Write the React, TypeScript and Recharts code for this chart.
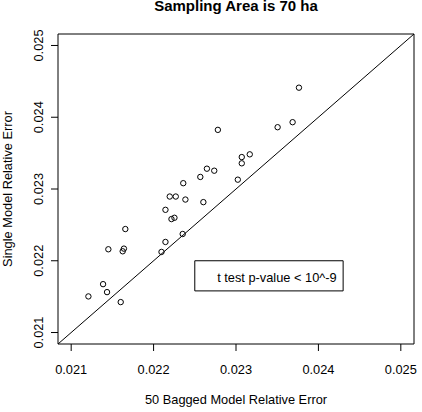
import React from 'react';
import {
  ScatterChart,
  Scatter,
  XAxis,
  YAxis,
  ReferenceLine,
  ReferenceArea,
  Customized,
} from 'recharts';

// Relative error of the 50-model bagged ensemble (x) vs. the single model (y)
const baggedError = [
  0.021209, 0.021387, 0.021435, 0.021451, 0.021601, 0.021625, 0.02164, 0.021657,
  0.022096, 0.022144, 0.022144, 0.022196, 0.022217, 0.022253, 0.022269, 0.022353,
  0.02236, 0.022386, 0.022567, 0.022604, 0.022647, 0.022736, 0.02278, 0.023022,
  0.02307, 0.02307, 0.023167, 0.023505, 0.023687, 0.023764,
];
const singleError = [
  0.021503, 0.021674, 0.021563, 0.02216, 0.021424, 0.022132, 0.022169, 0.022442,
  0.022123, 0.022262, 0.02271, 0.022895, 0.022581, 0.022599, 0.022895, 0.022373,
  0.023081, 0.022853, 0.023168, 0.022817, 0.023283, 0.023255, 0.023824, 0.02313,
  0.023445, 0.023358, 0.023483, 0.023861, 0.023931, 0.024412,
];

const axisTicks = [0.021, 0.022, 0.023, 0.024, 0.025];
const axisDomain: [number, number] = [0.02084, 0.02516];

const legendBox = { x1: 0.0225, x2: 0.0243, y1: 0.02158, y2: 0.022 };
const legendText = 't test p-value < 10^-9';
const titleText = 'Sampling Area is 70 ha';
const xLabelText = '50 Bagged Model Relative Error';
const yLabelText = 'Single Model Relative Error';

const points = baggedError.map((b, i) => ({ bagged: b, single: singleError[i] }));

const FONT = "'Liberation Sans', Arial, Helvetica, sans-serif";
const BASE = 12.8;

const OpenCircle = (props: any) => (
  <circle cx={props.cx} cy={props.cy} r={2.7} fill="none" stroke="#000" strokeWidth={1} />
);

const RotatedTick = (props: any) => {
  const { x, y, payload } = props;
  return (
    <text
      x={x}
      y={y}
      transform={`rotate(-90 ${x} ${y})`}
      textAnchor="middle"
      fontSize={BASE}
      fontFamily={FONT}
      fill="#000"
    >
      {Number(payload.value).toFixed(3)}
    </text>
  );
};

const LegendLabel = (props: any) => {
  const vb = props.viewBox || {};
  return (
    <text x={vb.x + 22.4} y={vb.y + 21.3} fontSize={BASE} fontFamily={FONT} fill="#000">
      {legendText}
    </text>
  );
};

const Titles = () => (
  <g>
    <text x={236} y={11} textAnchor="middle" fontSize={15} fontWeight="bold" fontFamily={FONT} fill="#000">
      {titleText}
    </text>
    <text x={236} y={404} textAnchor="middle" fontSize={BASE} fontFamily={FONT} fill="#000">
      {xLabelText}
    </text>
    <text
      x={12}
      y={189}
      transform="rotate(-90 12 189)"
      textAnchor="middle"
      fontSize={BASE}
      fontFamily={FONT}
      fill="#000"
    >
      {yLabelText}
    </text>
  </g>
);

export default function App() {
  return (
    <div style={{ position: 'absolute', left: 0, top: 0, background: '#fff' }}>
      <ScatterChart
        width={422}
        height={412}
        margin={{ top: 34, right: 8, bottom: 0, left: 0 }}
      >
        <XAxis
          type="number"
          dataKey="bagged"
          domain={axisDomain}
          ticks={axisTicks}
          allowDataOverflow
          height={68}
          axisLine={false}
          tickSize={7}
          tickMargin={14}
          tickLine={{ stroke: '#000' }}
          tick={{ fill: '#000', fontSize: BASE, fontFamily: FONT }}
          tickFormatter={(v: number) => v.toFixed(3)}
        />
        <YAxis
          type="number"
          dataKey="single"
          domain={axisDomain}
          ticks={axisTicks}
          allowDataOverflow
          width={58}
          axisLine={false}
          tickSize={7}
          tickMargin={8}
          tickLine={{ stroke: '#000' }}
          tick={<RotatedTick />}
        />
        <ReferenceArea
          x1={axisDomain[0]}
          x2={axisDomain[1]}
          y1={axisDomain[0]}
          y2={axisDomain[1]}
          fill="none"
          stroke="#000"
          strokeWidth={1}
          fillOpacity={0}
        />
        <ReferenceLine
          segment={[
            { x: axisDomain[0], y: axisDomain[0] },
            { x: axisDomain[1], y: axisDomain[1] },
          ]}
          stroke="#000"
          strokeWidth={1}
        />
        <ReferenceArea
          x1={legendBox.x1}
          x2={legendBox.x2}
          y1={legendBox.y1}
          y2={legendBox.y2}
          fill="#fff"
          fillOpacity={1}
          stroke="#000"
          strokeWidth={1}
          label={<LegendLabel />}
        />
        <Scatter data={points} shape={<OpenCircle />} isAnimationActive={false} />
        <Customized component={<Titles />} />
      </ScatterChart>
    </div>
  );
}
